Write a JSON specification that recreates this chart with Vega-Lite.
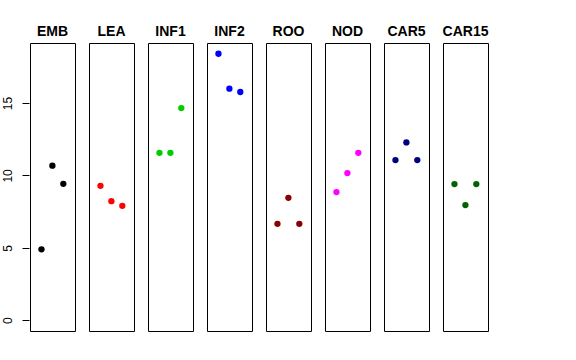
{
  "$schema": "https://vega.github.io/schema/vega-lite/v6.json",
  "padding": {"left": 0, "top": 25, "right": 0, "bottom": 0},
  "background": "white",
  "data": {"values": [
    {"tissue": "EMB", "rep": 1, "value": 4.9},
    {"tissue": "EMB", "rep": 2, "value": 10.67},
    {"tissue": "EMB", "rep": 3, "value": 9.42},
    {"tissue": "LEA", "rep": 1, "value": 9.28},
    {"tissue": "LEA", "rep": 2, "value": 8.22},
    {"tissue": "LEA", "rep": 3, "value": 7.9},
    {"tissue": "INF1", "rep": 1, "value": 11.56},
    {"tissue": "INF1", "rep": 2, "value": 11.56},
    {"tissue": "INF1", "rep": 3, "value": 14.65},
    {"tissue": "INF2", "rep": 1, "value": 18.4},
    {"tissue": "INF2", "rep": 2, "value": 15.99},
    {"tissue": "INF2", "rep": 3, "value": 15.76},
    {"tissue": "ROO", "rep": 1, "value": 6.66},
    {"tissue": "ROO", "rep": 2, "value": 8.45},
    {"tissue": "ROO", "rep": 3, "value": 6.66},
    {"tissue": "NOD", "rep": 1, "value": 8.85},
    {"tissue": "NOD", "rep": 2, "value": 10.16},
    {"tissue": "NOD", "rep": 3, "value": 11.56},
    {"tissue": "CAR5", "rep": 1, "value": 11.06},
    {"tissue": "CAR5", "rep": 2, "value": 12.28},
    {"tissue": "CAR5", "rep": 3, "value": 11.06},
    {"tissue": "CAR15", "rep": 1, "value": 9.4},
    {"tissue": "CAR15", "rep": 2, "value": 7.95},
    {"tissue": "CAR15", "rep": 3, "value": 9.4}
  ]},
  "facet": {
    "column": {
      "field": "tissue",
      "type": "nominal",
      "sort": ["EMB", "LEA", "INF1", "INF2", "ROO", "NOD", "CAR5", "CAR15"],
      "header": {
        "title": null,
        "labelFont": "Liberation Sans",
        "labelFontSize": 14,
        "labelFontWeight": "bold",
        "labelColor": "black",
        "labelPadding": 3
      }
    }
  },
  "spacing": 12,
  "spec": {
    "width": 45,
    "height": 288,
    "mark": {"type": "point", "filled": true, "opacity": 1, "size": 40},
    "encoding": {
      "x": {
        "field": "rep",
        "type": "quantitative",
        "scale": {"domain": [-0.05, 4.07], "nice": false, "zero": false},
        "axis": null
      },
      "y": {
        "field": "value",
        "type": "quantitative",
        "scale": {"domain": [-0.74, 19.14], "nice": false, "zero": false},
        "axis": {
          "title": null,
          "values": [0, 5, 10, 15],
          "grid": false,
          "domain": false,
          "tickSize": 7,
          "tickColor": "black",
          "labelAngle": -90,
          "labelAlign": "center",
          "labelBaseline": "bottom",
          "labelPadding": 8,
          "labelFont": "Liberation Sans",
          "labelFontSize": 12,
          "labelColor": "black",
          "minExtent": 29,
          "maxExtent": 29
        }
      },
      "color": {
        "field": "tissue",
        "type": "nominal",
        "scale": {
          "domain": ["EMB", "LEA", "INF1", "INF2", "ROO", "NOD", "CAR5", "CAR15"],
          "range": ["#000000", "#FF0000", "#00CD00", "#0000FF", "#8B0000", "#FF00FF", "#000080", "#006400"]
        },
        "legend": null
      }
    }
  },
  "config": {
    "view": {"stroke": "black", "strokeWidth": 1}
  }
}
